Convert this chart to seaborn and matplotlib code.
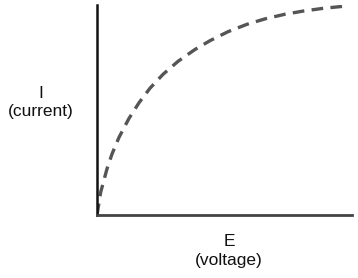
import matplotlib
matplotlib.use("Agg")
import matplotlib.pyplot as plt
import seaborn as sns
import pandas as pd

voltage = [0.0, 0.145, 0.39, 0.59, 0.86, 1.25, 1.65, 2.08, 2.59, 3.18, 3.84, 4.43,
           5.14, 5.88, 6.59, 7.37, 8.08, 8.86, 9.84]
current = [0.0, 0.109, 0.219, 0.291, 0.369, 0.459, 0.535, 0.604, 0.670, 0.732, 0.788, 0.830,
           0.873, 0.908, 0.934, 0.956, 0.971, 0.984, 0.996]
x_label = "E\n(voltage)"
y_label = "I\n(current)"

sns.set_style("white")
plt.rcParams['font.family'] = ['Liberation Sans', 'DejaVu Sans']

df = pd.DataFrame({"E": voltage, "I": current})

fig = plt.figure(figsize=(3.58, 2.78), dpi=100)
ax = fig.add_axes([97/358, 63/278, 255/358, 210/278])
sns.lineplot(data=df, x="E", y="I", ax=ax, color="#555555", linewidth=2.4,
             linestyle=(0, (3.5, 2.2)), sort=False)
ax.set_xlim(0, 10)
ax.set_ylim(0, 1)
ax.set_xticks([])
ax.set_yticks([])
ax.set_xlabel("")
ax.set_ylabel("")
for s in ["top", "right"]:
    ax.spines[s].set_visible(False)
ax.spines["left"].set_color("#111111")
ax.spines["left"].set_linewidth(1.8)
ax.spines["bottom"].set_color("#444444")
ax.spines["bottom"].set_linewidth(2.0)

fig.text(41/358, 1 - 103/278, y_label, ha="center", va="center", fontsize=12.5,
         linespacing=1.25, color="#111111")
fig.text(229/358, 1 - 251/278, x_label, ha="center", va="center", fontsize=12.5,
         linespacing=1.25, color="#111111")

fig.savefig("out.png", dpi=100)
